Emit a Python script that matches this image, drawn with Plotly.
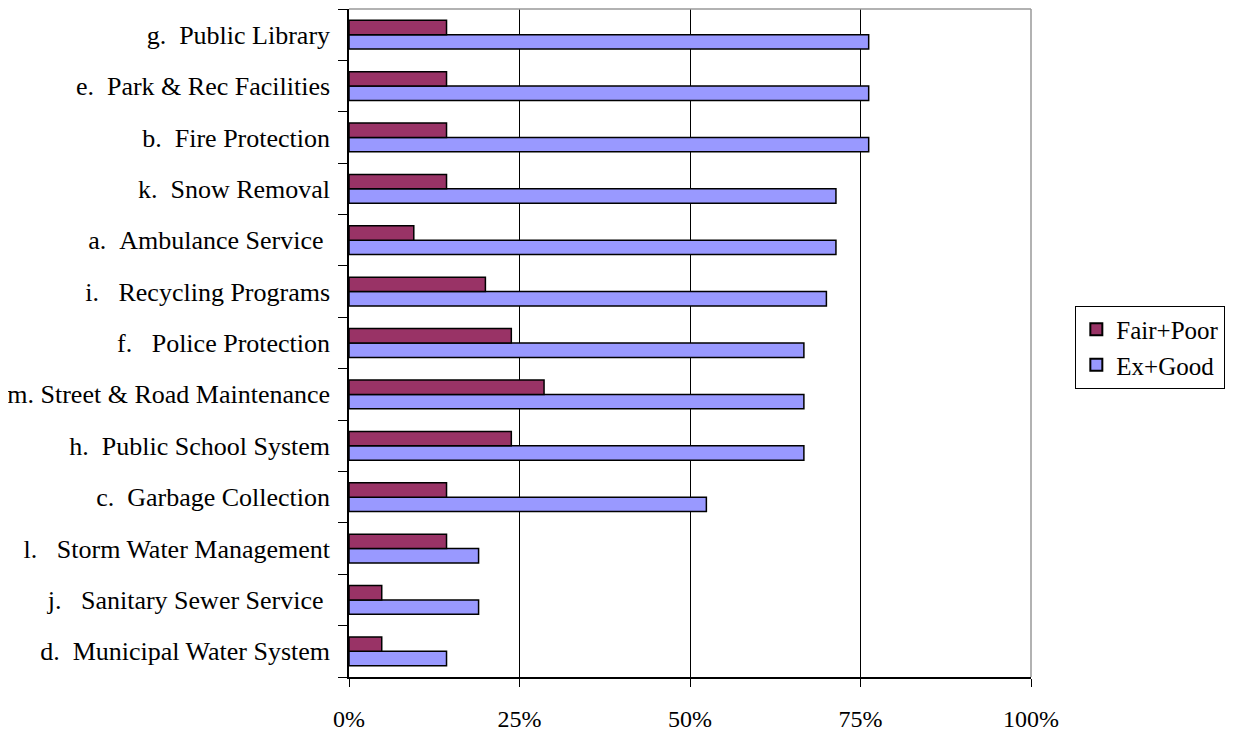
import plotly.graph_objects as go

NB = "\u00a0"
categories = [
    "d." + NB * 2 + "Municipal Water System",
    "j." + NB * 3 + "Sanitary Sewer Service" + NB,
    "l." + NB * 3 + "Storm Water Management",
    "c." + NB * 2 + "Garbage Collection",
    "h." + NB * 2 + "Public School System",
    "m. Street & Road Maintenance",
    "f." + NB * 3 + "Police Protection",
    "i." + NB * 3 + "Recycling Programs",
    "a." + NB * 2 + "Ambulance Service" + NB,
    "k." + NB * 2 + "Snow Removal",
    "b." + NB * 2 + "Fire Protection",
    "e." + NB * 2 + "Park & Rec Facilities",
    "g." + NB * 2 + "Public Library",
]
fair_poor = [4.8, 4.8, 14.3, 14.3, 23.8, 28.6, 23.8, 20.0, 9.5, 14.3, 14.3, 14.3, 14.3]
ex_good = [14.3, 19.0, 19.0, 52.4, 66.7, 66.7, 66.7, 70.0, 71.4, 71.4, 76.2, 76.2, 76.2]
x_ticks = [0, 25, 50, 75, 100]
x_labels = ["0%", "25%", "50%", "75%", "100%"]

fig = go.Figure()
fig.add_trace(go.Bar(
    y=categories, x=ex_good, name="Ex+Good", orientation="h", legendgroup="eg",
    marker=dict(color="#9999FF", line=dict(color="#000000", width=1.5)),
))
fig.add_trace(go.Bar(
    y=categories, x=fair_poor, name="Fair+Poor", orientation="h", legendgroup="fp",
    marker=dict(color="#993366", line=dict(color="#000000", width=1.5)),
))

FONT = "Liberation Serif, Times New Roman, serif"
# the page body adds an 8px offset, so the figure is sized to fit the window
fig.update_layout(
    width=1227, height=725,
    barmode="group", bargap=0.44, bargroupgap=0,
    plot_bgcolor="white", paper_bgcolor="white",
    margin=dict(l=341, r=204, t=1, b=56, autoexpand=False),
    font=dict(family=FONT, size=26, color="black"),
    showlegend=True,
    legend=dict(
        traceorder="reversed",
        x=1.065, y=0.494, xanchor="left", yanchor="middle",
        bordercolor="black", borderwidth=1, bgcolor="white",
        font=dict(family=FONT, size=25),
        itemsizing="constant", tracegroupgap=3,
    ),
)
fig.update_xaxes(
    range=[0, 100], tickvals=x_ticks, ticktext=x_labels,
    tickfont=dict(family=FONT, size=24),
    showgrid=True, gridcolor="black", gridwidth=1,
    showline=True, linecolor="black", linewidth=1.5, mirror=False,
    ticks="outside", ticklen=8, tickcolor="black",
    ticklabelstandoff=11, zeroline=False, automargin=False,
)
fig.update_yaxes(
    type="category", categoryorder="array", categoryarray=categories,
    tickfont=dict(family=FONT, size=26),
    showline=True, linecolor="black", linewidth=1.5,
    ticks="outside", ticklen=9, tickcolor="black", tickson="boundaries",
    showgrid=False, ticklabelstandoff=12, automargin=False,
)
# gray frame on top and right
fig.add_shape(type="line", xref="paper", yref="paper", x0=0, x1=1, y0=1, y1=1,
              line=dict(color="#999999", width=1.5))
fig.add_shape(type="line", xref="paper", yref="paper", x0=1, x1=1, y0=0, y1=1,
              line=dict(color="#999999", width=1.5))

fig.write_html("out.html")
